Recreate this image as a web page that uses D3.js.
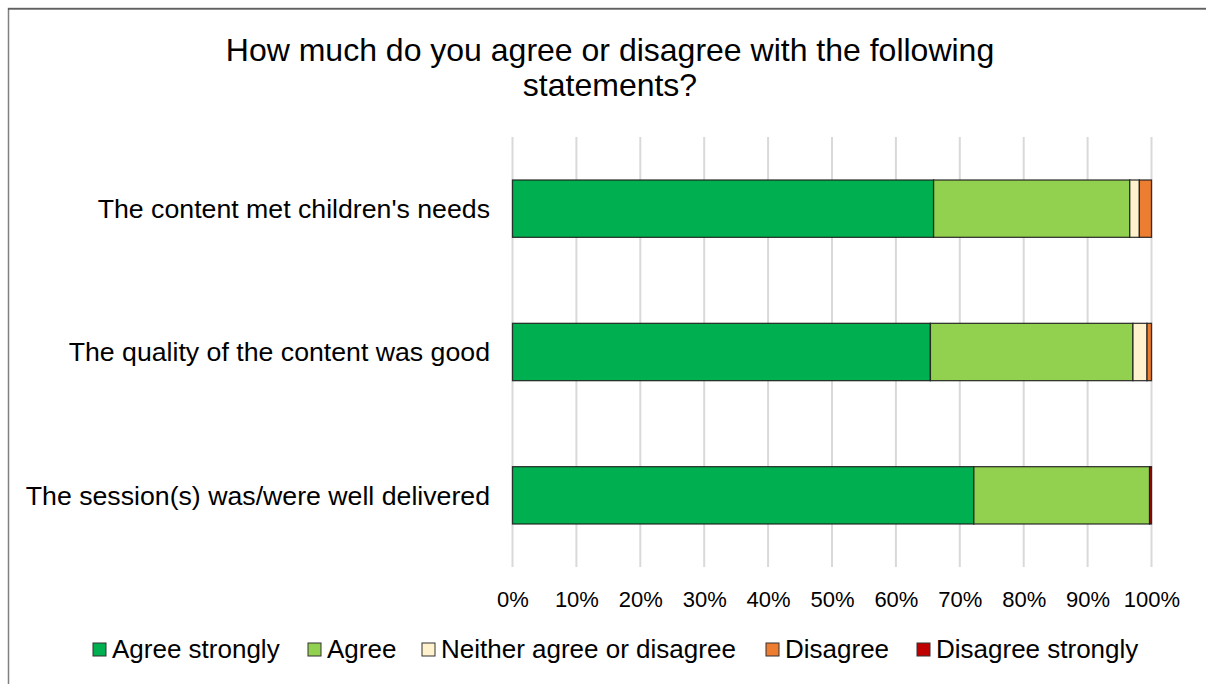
<!DOCTYPE html>
<html><head><meta charset="utf-8">
<script src="https://cdn.jsdelivr.net/npm/d3@7"></script>
<style>body{margin:0;background:#fff}svg{display:block}</style>
</head><body>
<svg id="c" width="1206" height="684"></svg>
<script>
const categories = ["The content met children's needs","The quality of the content was good","The session(s) was/were well delivered"];
const seriesNames = ["Agree strongly","Agree","Neither agree or disagree","Disagree","Disagree strongly"];
const agreeStrongly = [65.9, 65.4, 72.2];
const agree = [30.7, 31.7, 27.5];
const neither = [1.5, 2.2, 0];
const disagree = [1.9, 0.7, 0];
const disagreeStrongly = [0, 0, 0.3];
const colors = ["#00B050","#92D050","#FFF2CC","#ED7D31","#C00000"];
const tickValues = [0,10,20,30,40,50,60,70,80,90,100];

const svg = d3.select("#c");
const font = "Liberation Sans, Arial, sans-serif";
// chart border
svg.append("rect").attr("x",8.5).attr("y",8.5).attr("width",1300).attr("height",800)
  .attr("fill","none").attr("stroke","#808080").attr("stroke-width",1.5);
svg.append("line").attr("x1",8).attr("x2",1206).attr("y1",9).attr("y2",9).attr("stroke","#404040").attr("stroke-width",1);

const x = d3.scaleLinear().domain([0,100]).range([512.5,1151.5]);
const y = d3.scaleBand().domain(categories).range([137,567]).paddingInner(0.6).paddingOuter(0.3);

// gridlines
svg.append("g").selectAll("line").data(tickValues).join("line")
  .attr("x1",d=>x(d)).attr("x2",d=>x(d)).attr("y1",137).attr("y2",567)
  .attr("stroke","#D9D9D9").attr("stroke-width",2);

const series = [agreeStrongly, agree, neither, disagree, disagreeStrongly];
const rows = categories.map((c,i)=>{const o={cat:c}; seriesNames.forEach((s,j)=>o[s]=series[j][i]); return o;});
const stack = d3.stack().keys(seriesNames)(rows);
svg.append("g").selectAll("g").data(stack).join("g").attr("fill",(d,i)=>colors[i])
  .selectAll("rect").data(d=>d.filter(p=>p[1]-p[0]>0)).join("rect")
  .attr("x",d=>x(d[0])).attr("width",d=>x(d[1])-x(d[0]))
  .attr("y",d=>y(d.data.cat)).attr("height",y.bandwidth())
  .attr("stroke","#1a1a1a").attr("stroke-opacity",0.85).attr("stroke-width",1.3);

// axis tick labels
const xAxis = d3.axisBottom(x).tickValues(tickValues).tickFormat(d=>d+"%").tickSize(0).tickPadding(0);
const ax = svg.append("g").attr("transform","translate(0,607)").call(xAxis);
ax.select(".domain").remove();
ax.selectAll("text").attr("font-family",font).attr("font-size",22).attr("fill","#000").attr("dy",0).attr("y",0);

// category labels
const yAxis = d3.axisLeft(y).tickSize(0).tickPadding(0);
const ay = svg.append("g").attr("transform","translate(490,0)").call(yAxis);
ay.select(".domain").remove();
ay.selectAll("text").attr("font-family",font).attr("font-size",26.7).attr("fill","#000").attr("dy","0.35em");

// title
svg.append("text").attr("x",610).attr("y",61).attr("text-anchor","middle").attr("font-family",font).attr("font-size",32).text("How much do you agree or disagree with the following");
svg.append("text").attr("x",610).attr("y",96).attr("text-anchor","middle").attr("font-family",font).attr("font-size",32).text("statements?");

// legend
const legX = [93, 308, 422, 766, 917];
const lg = svg.append("g").selectAll("g").data(seriesNames).join("g")
  .attr("transform",(d,i)=>`translate(${legX[i]},643)`);
lg.append("rect").attr("width",13).attr("height",13).attr("fill",(d,i)=>colors[i]).attr("stroke","#333").attr("stroke-width",1);
lg.append("text").attr("x",19).attr("y",15).attr("font-family",font).attr("font-size",26).text(d=>d);
</script>
</body></html>
